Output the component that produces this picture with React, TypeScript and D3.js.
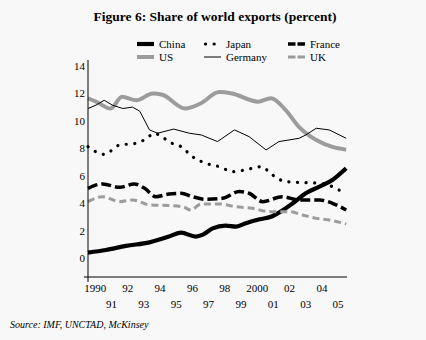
import React from "react";
import * as d3 from "d3";

type Pt = [number, number];

const china: Pt[] = [
  [1990, 0.39], [1991.1, 0.58], [1992.35, 0.88], [1993.8, 1.14], [1995.0, 1.56], [1995.75, 1.85],
  [1996.65, 1.56], [1997.1, 1.7], [1997.7, 2.16], [1998.5, 2.36], [1999.15, 2.29], [1999.75, 2.53],
  [2000.6, 2.82], [2001.3, 3.01], [2001.9, 3.38], [2002.65, 3.99], [2003.45, 4.72], [2004.3, 5.2],
  [2005.1, 5.69], [2005.95, 6.54],
];
const us: Pt[] = [
  [1990, 11.65], [1990.5, 11.4], [1991.4, 10.9], [1992.1, 11.75], [1993, 11.5], [1994, 12.0],
  [1994.6, 11.9], [1996, 10.9], [1997, 11.3], [1998.1, 12.1], [1998.9, 12.0], [2000.5, 11.4],
  [2001.3, 11.65], [2002.2, 10.8], [2003, 9.6], [2004.1, 8.6], [2005.1, 8.1], [2005.95, 7.9],
];
const japan: Pt[] = [
  [1990, 8.12], [1991, 7.56], [1991.95, 8.24], [1992.95, 8.36], [1993.6, 8.7], [1994.1, 9.09],
  [1994.7, 8.73], [1995.2, 8.36], [1995.75, 8.12], [1996.45, 7.39], [1997.3, 6.9], [1998.1, 6.66],
  [1998.95, 6.3], [2000.15, 6.54], [2000.7, 6.66], [2001.4, 6.05], [2002.2, 5.57], [2003.25, 5.5],
  [2004.3, 5.45], [2005.1, 5.2], [2005.85, 4.72],
];
const germany: Pt[] = [
  [1990, 10.9], [1990.5, 11.15], [1991.0, 11.5], [1991.5, 11.15], [1992.15, 10.9], [1992.75, 11.0],
  [1993.2, 10.7], [1993.8, 9.34], [1994.3, 9.1], [1995.3, 9.4], [1996.25, 9.1], [1997, 8.97],
  [1998, 8.49], [1999.05, 9.34], [1999.95, 8.85], [2001, 7.88], [2001.8, 8.49], [2003.05, 8.73],
  [2003.45, 8.97], [2004.1, 9.46], [2004.9, 9.34], [2005.95, 8.73],
];
const france: Pt[] = [
  [1990, 5.08], [1990.9, 5.4], [1991.95, 5.15], [1992.85, 5.4], [1993.5, 5.08], [1994.2, 4.47],
  [1995.0, 4.67], [1995.75, 4.72], [1996.45, 4.47], [1997.3, 4.28], [1998.3, 4.35], [1999.35, 4.84],
  [1999.95, 4.72], [2000.8, 4.11], [2002.0, 4.47], [2003.05, 4.23], [2004.3, 4.23], [2005.1, 3.99],
  [2005.95, 3.5],
];
const uk: Pt[] = [
  [1990, 4.11], [1990.9, 4.47], [1991.95, 4.11], [1992.75, 4.23], [1993.8, 3.87], [1995, 3.82],
  [1995.85, 3.74], [1996.35, 3.5], [1997, 3.94], [1998.1, 3.94], [1999.15, 3.74], [2000.15, 3.62],
  [2001.2, 3.38], [2002.45, 3.38], [2003.25, 3.14], [2004.1, 2.89], [2004.9, 2.77], [2005.95, 2.48],
];

const yTicks = [0, 2, 4, 6, 8, 10, 12, 14];
const xYears = [1990, 1991, 1992, 1993, 1994, 1995, 1996, 1997, 1998, 1999, 2000, 2001, 2002, 2003, 2004, 2005];
const xLabels = ["1990", "91", "92", "93", "94", "95", "96", "97", "98", "99", "2000", "01", "02", "03", "04", "05"];

const GRAY = "#9c9c9c";
const FONT = "'Liberation Serif', 'Times New Roman', serif";

const series = [
  { name: "China", data: china, color: "#000", width: 4.2, dash: undefined as string | undefined, cap: "butt", smooth: true },
  { name: "US", data: us, color: GRAY, width: 4, dash: undefined, cap: "butt", smooth: true },
  { name: "Japan", data: japan, color: "#000", width: 3.2, dash: "0.1 8.5", cap: "round", smooth: true },
  { name: "Germany", data: germany, color: "#000", width: 1, dash: undefined, cap: "butt", smooth: false },
  { name: "France", data: france, color: "#000", width: 3.5, dash: "10 4", cap: "butt", smooth: true },
  { name: "UK", data: uk, color: GRAY, width: 3, dash: "7 4", cap: "butt", smooth: true },
];

export default function App() {
  const x = d3.scaleLinear().domain([1990, 2006]).range([88, 347]);
  const y = d3.scaleLinear().domain([0, 14]).range([258, 66]);
  const lineSmooth = d3
    .line<Pt>()
    .x((d) => x(d[0]))
    .y((d) => y(d[1]))
    .curve(d3.curveMonotoneX);
  const lineStraight = d3
    .line<Pt>()
    .x((d) => x(d[0]))
    .y((d) => y(d[1]));

  const legendPos = [
    { col: 0, row: 0 },
    { col: 0, row: 1 },
    { col: 1, row: 0 },
    { col: 1, row: 1 },
    { col: 2, row: 0 },
    { col: 2, row: 1 },
  ];
  const colX = [137, 204, 288];
  const rowY = [44, 57];

  return (
    <svg
      width={426}
      height={340}
      style={{ position: "absolute", left: 0, top: 0, fontFamily: FONT }}
    >
      <rect x={0} y={0} width={426} height={340} fill="#f8f8f8" />
      <text x={215} y={21} textAnchor="middle" fontSize={13.5} fontWeight="bold">
        Figure 6: Share of world exports (percent)
      </text>

      {series.map((s, i) => {
        const p = legendPos[i];
        const lx = colX[p.col];
        const ly = rowY[p.row];
        return (
          <g key={s.name}>
            <line
              x1={lx + (s.cap === "round" ? 1.5 : 0)}
              x2={lx + 17}
              y1={ly}
              y2={ly}
              stroke={s.color}
              strokeWidth={s.width}
              strokeDasharray={s.name === "France" || s.name === "UK" ? "7.5 2" : s.dash}
              strokeLinecap={s.cap as any}
            />
            <text x={lx + 22} y={ly + 4} fontSize={11}>
              {s.name}
            </text>
          </g>
        );
      })}

      {series.map((s) => (
        <path
          key={s.name}
          d={(s.smooth ? lineSmooth(s.data) : lineStraight(s.data)) || ""}
          fill="none"
          stroke={s.color}
          strokeWidth={s.width}
          strokeDasharray={s.dash}
          strokeLinecap={s.cap as any}
          strokeLinejoin="round"
        />
      ))}

      <line x1={88} x2={88} y1={60} y2={282} stroke="#000" strokeWidth={1} />
      <line x1={84} x2={347} y1={277} y2={277} stroke="#000" strokeWidth={1} />

      {yTicks.map((t) => (
        <text key={t} x={85} y={y(t) + 4} textAnchor="end" fontSize={11}>
          {t}
        </text>
      ))}
      {xYears.map((yr, i) => (
        <text
          key={yr}
          x={x(yr + 0.45)}
          y={i % 2 === 0 ? 292 : 308}
          textAnchor="middle"
          fontSize={11}
        >
          {xLabels[i]}
        </text>
      ))}

      <text x={10} y={328} fontSize={10} fontStyle="italic">
        Source: IMF, UNCTAD, McKinsey
      </text>
    </svg>
  );
}
